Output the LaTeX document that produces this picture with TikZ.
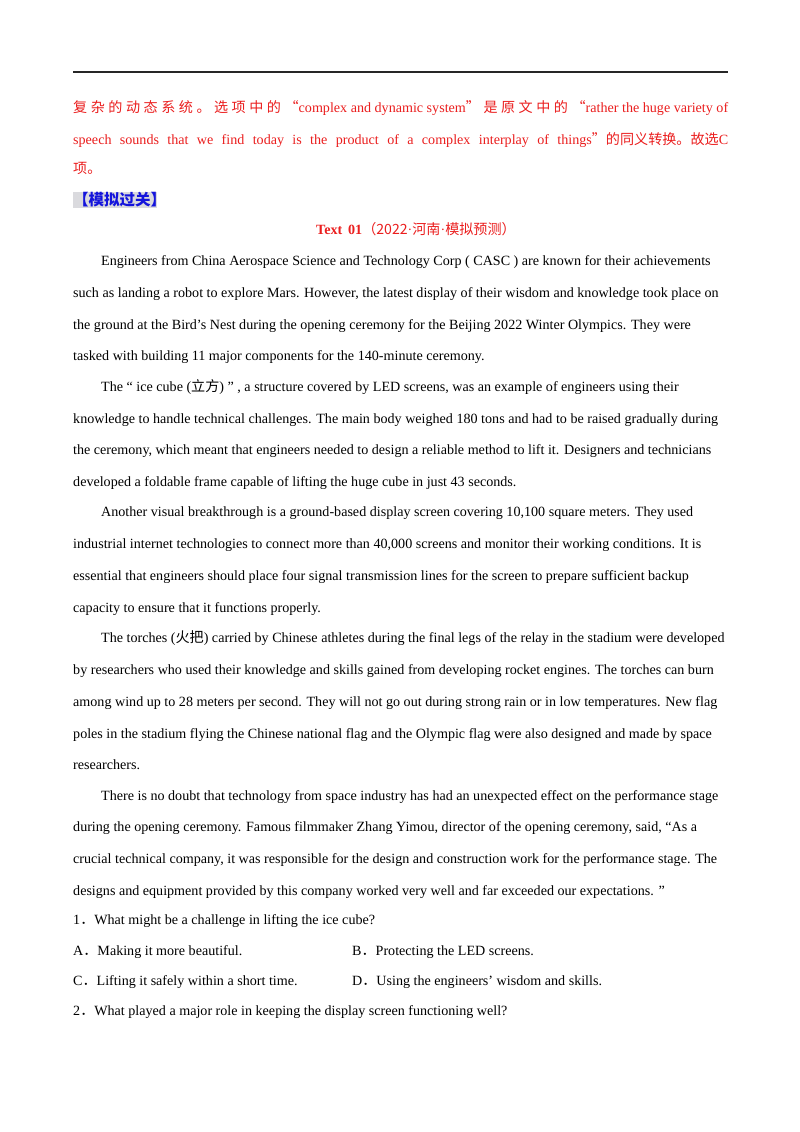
\documentclass[tikz,border=0pt]{standalone}
\usepackage{fontspec}
\setmainfont{Liberation Serif}
\newfontfamily\cjk{Noto Sans CJK SC}
\definecolor{redt}{RGB}{235,30,30}
\definecolor{bluet}{RGB}{20,20,220}
\definecolor{grayb}{RGB}{218,218,222}
\begin{document}
\begin{tikzpicture}[x=1pt,y=-1pt,
  tl/.style={anchor=base west,inner sep=0,font=\fontsize{14.1}{16}\selectfont},
  rl/.style={tl,text=redt}]
\useasboundingbox[fill=white] (0,0) rectangle (800,1132);
\draw[line width=2pt,black!85] (73,72) -- (728,72);
\node[rl] (r1) at (73,112) {\makebox[655pt][s]{{\cjk 复\hfil 杂\hfil 的\hfil 动\hfil 态\hfil 系\hfil 统\hfil 。\hfil 选\hfil 项\hfil 中\hfil 的\hfil “}complex and dynamic system{\cjk ”\hfil 是\hfil 原\hfil 文\hfil 中\hfil 的\hfil “}rather the huge variety of}};
\node[rl] (r2) at (73,144) {\makebox[655pt][s]{speech sounds that we find today is the product of a complex interplay of things{\cjk ”的同义转换。故选}C}};
\node[rl] (r3) at (73,173) {\cjk 项。};
\fill[grayb] (73,192) rectangle (157,208);
\node[tl,text=bluet,font=\fontsize{15.5}{17}\selectfont] (h) at (73,205.5) {\cjk\bfseries 【模拟过关】};
\node[tl,text=redt] (t) at (316,234) {\textbf{Text\, 01}{\cjk （2022}·{\cjk 河南}·{\cjk 模拟预测）}};
\foreach \i/\x/\y/\s in {
 p1/101/265/{Engineers from China Aerospace Science and Technology Corp ( CASC ) are known for their achievements},
 p2/73/297/{such as landing a robot to explore Mars. However, the latest display of their wisdom and knowledge took place on},
 p3/73/329/{the ground at the Bird’s Nest during the opening ceremony for the Beijing 2022 Winter Olympics. They were},
 p4/73/360/{tasked with building 11 major components for the 140-minute ceremony.},
 q1/101/391/{The “ ice cube ({\cjk 立方}) ” , a structure covered by LED screens, was an example of engineers using their},
 q2/73/423/{knowledge to handle technical challenges. The main body weighed 180 tons and had to be raised gradually during},
 q3/73/454/{the ceremony, which meant that engineers needed to design a reliable method to lift it. Designers and technicians},
 q4/73/486/{developed a foldable frame capable of lifting the huge cube in just 43 seconds.},
 s1/101/516/{Another visual breakthrough is a ground-based display screen covering 10,100 square meters. They used},
 s2/73/548/{industrial internet technologies to connect more than 40,000 screens and monitor their working conditions. It is},
 s3/73/580/{essential that engineers should place four signal transmission lines for the screen to prepare sufficient backup},
 s4/73/612/{capacity to ensure that it functions properly.},
 u1/101/642/{The torches ({\cjk 火把}) carried by Chinese athletes during the final legs of the relay in the stadium were developed},
 u2/73/674/{by researchers who used their knowledge and skills gained from developing rocket engines. The torches can burn},
 u3/73/706/{among wind up to 28 meters per second. They will not go out during strong rain or in low temperatures. New flag},
 u4/73/738/{poles in the stadium flying the Chinese national flag and the Olympic flag were also designed and made by space},
 u5/73/769/{researchers.},
 v1/101/800/{There is no doubt that technology from space industry has had an unexpected effect on the performance stage},
 v2/73/831/{during the opening ceremony. Famous filmmaker Zhang Yimou, director of the opening ceremony, said, “As a},
 v3/73/863/{crucial technical company, it was responsible for the design and construction work for the performance stage. The},
 v4/73/895/{designs and equipment provided by this company worked very well and far exceeded our expectations. ”},
 w1/73/924/{1{\cjk ．}What might be a challenge in lifting the ice cube?},
 w2/73/955/{A{\cjk ．}Making it more beautiful.},
 w3/352/955/{B{\cjk ．}Protecting the LED screens.},
 w4/73/985/{C{\cjk ．}Lifting it safely within a short time.},
 w5/352/985/{D{\cjk ．}Using the engineers’ wisdom and skills.},
 w6/73/1015/{2{\cjk ．}What played a major role in keeping the display screen functioning well?}}
 \node[tl] (\i) at (\x,\y) {\s};
\end{tikzpicture}
\end{document}
